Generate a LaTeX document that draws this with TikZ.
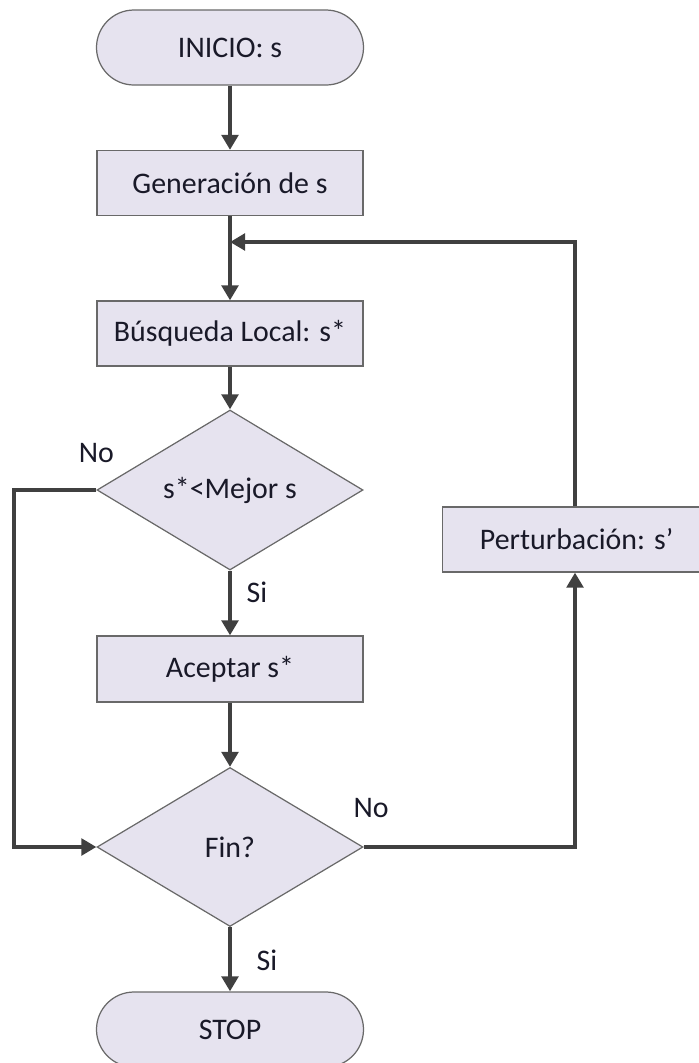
\documentclass[tikz,border=0pt]{standalone}
\usepackage{fontspec}
\setmainfont{Carlito}
\usepackage{tikz}
\usetikzlibrary{shapes.geometric,arrows.meta}
\definecolor{boxfill}{RGB}{230,227,239}
\definecolor{boxline}{RGB}{105,105,105}
\definecolor{flowline}{RGB}{64,64,64}
\definecolor{txt}{RGB}{25,25,40}
\tikzstyle{terminal} = [draw=boxline, fill=boxfill, line width=0.7pt, rectangle, rounded corners=0.75cm, minimum height=1.5cm, minimum width=5.34cm, text=txt]
\tikzstyle{block} = [draw=boxline, fill=boxfill, line width=0.7pt, rectangle, minimum height=1.3cm, minimum width=5.32cm, text=txt]
\tikzstyle{decision} = [draw=boxline, fill=boxfill, line width=0.7pt, diamond, aspect=1.66, inner sep=0pt, minimum height=3.2cm, minimum width=5.32cm, text=txt]
\tikzstyle{lbl} = [text=txt, inner sep=0pt]
\tikzstyle{flow} = [draw=flowline, line width=2.3pt]

\begin{document}
\begin{tikzpicture}[auto, >={Triangle[length=0.3cm,width=0.33cm]}, font=\fontsize{17}{20}\selectfont]
    \useasboundingbox (0,0) rectangle (13.98,-21.26);
    % Define the nodes
    \node [terminal] (inicio) at (4.6,-0.95) {INICIO: s};
    \node [block, below of=inicio, node distance=2.71cm] (gen) {Generación de s};
    \node [block, below of=gen, node distance=3.01cm] (busq) {Búsqueda Local: s*};
    \node [decision, below of=busq, node distance=3.13cm] (mejor) {s*<Mejor s};
    \node [block, below of=mejor, node distance=3.58cm, minimum height=1.32cm] (acept) {Aceptar s*};
    \node [decision, below of=acept, node distance=3.56cm, minimum height=3.18cm] (fin) {Fin?};
    \node [terminal, below of=fin, node distance=3.65cm] (stop) {STOP};
    \node [block, anchor=west, minimum width=5.8cm] (pert) at (8.84,-10.79) {\hspace*{-0.44cm}Perturbación: s’};
    \coordinate (join) at (4.6,-4.84);
    \coordinate (pin) at (11.5,-10.79);
    % Connect the nodes
    \draw [flow, ->] (inicio) -- (gen);
    \draw [flow] (gen) -- (join);
    \draw [flow, ->] (join) -- (busq);
    \draw [flow, ->] (busq) -- (mejor);
    \draw [flow, ->] (mejor) -- (acept);
    \draw [flow, ->] (acept) -- (fin);
    \draw [flow, ->] (fin) -- (stop);
    \draw [flow, ->] (mejor.west) -- ++(-1.64,0) |- (fin.west);
    \draw [flow, ->] (fin.east) -| (pin |- pert.south);
    \draw [flow, ->] (pin |- pert.north) |- (join);
    % Labels
    \node [lbl] (no1) at ([yshift=0.74cm]mejor.west) {No};
    \node [lbl] (si1) at ([xshift=0.54cm,yshift=-0.44cm]mejor.south) {Si};
    \node [lbl] (no2) at ([xshift=0.15cm,yshift=0.78cm]fin.east) {No};
    \node [lbl] (si2) at ([xshift=0.74cm,yshift=-0.67cm]fin.south) {Si};
\end{tikzpicture}
\end{document}
